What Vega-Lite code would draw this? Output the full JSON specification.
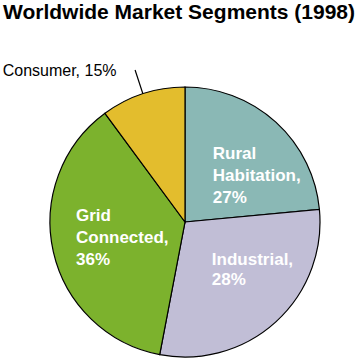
{
  "$schema": "https://vega.github.io/schema/vega-lite/v6.json",
  "width": 270,
  "height": 270,
  "autosize": {"type": "none"},
  "padding": {"left": 50, "top": 87, "right": 37, "bottom": 1},
  "background": "white",
  "title": {
    "text": "Worldwide Market Segments (1998)",
    "font": "Liberation Sans",
    "fontSize": 21,
    "fontWeight": "bold",
    "color": "black",
    "anchor": "middle",
    "frame": "group",
    "dx": -6,
    "offset": 40
  },
  "view": {"stroke": null},
  "data": {
    "values": [
      {"segment": "Rural Habitation", "share": 23.5, "label": "Rural\nHabitation,\n27%"},
      {"segment": "Industrial", "share": 29.5, "label": "Industrial,\n28%"},
      {"segment": "Grid Connected", "share": 36.9, "label": "Grid\nConnected,\n36%"},
      {"segment": "Consumer", "share": 10.1, "label": "Consumer, 15%"}
    ]
  },
  "layer": [
    {
      "mark": {"type": "arc", "stroke": "black", "strokeWidth": 1.2},
      "encoding": {
        "theta": {"field": "share", "type": "quantitative", "stack": true},
        "order": {"field": "segment", "sort": "descending"},
        "color": {
          "field": "segment",
          "type": "nominal",
          "legend": null,
          "scale": {
            "domain": ["Rural Habitation", "Industrial", "Grid Connected", "Consumer"],
            "range": ["#8ab8b5", "#c1bed6", "#7cb22d", "#e3bd2d"]
          }
        }
      }
    },
    {
      "mark": {"type": "arc", "innerRadius": 135, "outerRadius": 160, "padAngle": 1.2, "fillOpacity": 0, "stroke": "black", "strokeWidth": 1.2},
      "encoding": {
        "theta": {"field": "share", "type": "quantitative", "stack": true},
        "order": {"field": "segment", "sort": "descending"},
        "detail": {"field": "segment"},
        "strokeOpacity": {"condition": {"test": "datum.segment === 'Consumer'", "value": 1}, "value": 0}
      }
    },
    {
      "mark": {"type": "text", "radius": 80, "align": "left", "baseline": "middle", "lineBreak": "\n", "lineHeight": 22, "font": "Liberation Sans", "fontWeight": "bold", "fontSize": 17, "color": "white", "dx": -26, "dy": -9},
      "encoding": {
        "theta": {"field": "share", "type": "quantitative", "stack": true},
        "order": {"field": "segment", "sort": "descending"},
        "detail": {"field": "segment"},
        "text": {"condition": {"test": "datum.segment === 'Rural Habitation'", "field": "label"}, "value": ""}
      }
    },
    {
      "mark": {"type": "text", "radius": 80, "align": "left", "baseline": "middle", "lineBreak": "\n", "lineHeight": 20, "font": "Liberation Sans", "fontWeight": "bold", "fontSize": 17, "color": "white", "dx": -27, "dy": -21.5},
      "encoding": {
        "theta": {"field": "share", "type": "quantitative", "stack": true},
        "order": {"field": "segment", "sort": "descending"},
        "detail": {"field": "segment"},
        "text": {"condition": {"test": "datum.segment === 'Industrial'", "field": "label"}, "value": ""}
      }
    },
    {
      "mark": {"type": "text", "radius": 80, "align": "left", "baseline": "middle", "lineBreak": "\n", "lineHeight": 22, "font": "Liberation Sans", "fontWeight": "bold", "fontSize": 17, "color": "white", "dx": -31, "dy": -23.7},
      "encoding": {
        "theta": {"field": "share", "type": "quantitative", "stack": true},
        "order": {"field": "segment", "sort": "descending"},
        "detail": {"field": "segment"},
        "text": {"condition": {"test": "datum.segment === 'Grid Connected'", "field": "label"}, "value": ""}
      }
    },
    {
      "mark": {"type": "text", "radius": 165, "align": "right", "baseline": "middle", "font": "Liberation Sans", "fontSize": 16, "color": "black", "dx": -17, "dy": 5.6},
      "encoding": {
        "theta": {"field": "share", "type": "quantitative", "stack": true},
        "order": {"field": "segment", "sort": "descending"},
        "detail": {"field": "segment"},
        "text": {"condition": {"test": "datum.segment === 'Consumer'", "field": "label"}, "value": ""}
      }
    }
  ]
}
